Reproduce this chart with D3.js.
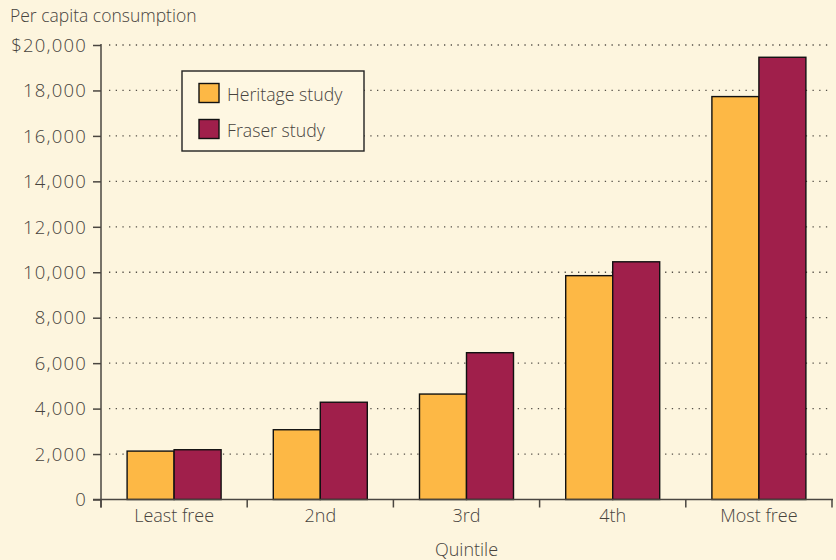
<!DOCTYPE html>
<html>
<head>
<meta charset="utf-8">
<script src="https://cdn.jsdelivr.net/npm/d3@7"></script>
<style>
  html, body { margin: 0; padding: 0; background: #fdf5de; }
  svg { display: block; }
</style>
</head>
<body>
<div class="canvas"></div>
<script>
// data
const quintiles = ['Least free', '2nd', '3rd', '4th', 'Most free'];
const heritage = [2130, 3070, 4640, 9850, 17730];
const fraser = [2190, 4280, 6460, 10460, 19460];
const seriesNames = ['Heritage study', 'Fraser study'];
const yTicks = [0, 2000, 4000, 6000, 8000, 10000, 12000, 14000, 16000, 18000, 20000];

const dims = {
  width: 836,
  height: 560,
  left: 101,
  right: 832,
  top: 45,
  bottom: 499.5,
  font: "'Open Sans', 'DejaVu Sans', sans-serif",
  weight: 300
};

const textColor = '#47433d';
const axisColor = '#4a4640';
const color = d3.scaleOrdinal(seriesNames, ['#fdb845', '#a01f4b']);

const svg = d3
  .select('.canvas')
  .append('svg')
  .attr('width', dims.width)
  .attr('height', dims.height);

svg.append('rect')
  .attr('width', dims.width)
  .attr('height', dims.height)
  .attr('fill', '#fdf5de');

// scales
const y = d3.scaleLinear().domain([0, 20000]).range([dims.bottom, dims.top]);
const x = d3.scaleBand().domain(quintiles).range([dims.left, dims.right]).paddingInner(0).paddingOuter(0);
const x1 = d3.scaleBand().domain(seriesNames).range([0, 94]);
const groupOffset = (x.bandwidth() - 94) / 2;

// gridlines (dotted)
svg.append('g')
  .selectAll('line')
  .data(yTicks.filter((d) => d > 0))
  .join('line')
  .attr('x1', dims.left + 8)
  .attr('x2', dims.right)
  .attr('y1', (d) => y(d))
  .attr('y2', (d) => y(d))
  .attr('stroke', '#555048')
  .attr('stroke-width', 1.3)
  .attr('stroke-dasharray', '1.3, 5.4');

// bars
const rows = quintiles.map((q, i) => ({ key: q, values: [heritage[i], fraser[i]] }));

const groups = svg.append('g')
  .selectAll('g')
  .data(rows)
  .join('g')
  .attr('transform', (d) => `translate(${x(d.key) + groupOffset}, 0)`);

groups.selectAll('rect')
  .data((d) => d.values.map((v, j) => ({ name: seriesNames[j], value: v })))
  .join('rect')
  .attr('x', (d) => x1(d.name))
  .attr('y', (d) => y(d.value))
  .attr('width', x1.bandwidth())
  .attr('height', (d) => y(0) - y(d.value))
  .attr('fill', (d) => color(d.name))
  .attr('stroke', '#111')
  .attr('stroke-width', 1.4);

// y axis
const yAxis = d3.axisLeft(y)
  .tickValues(yTicks)
  .tickSize(8)
  .tickPadding(6)
  .tickFormat((d) => (d === 20000 ? '$' : '') + d3.format(',')(d));

const yAxisGroup = svg.append('g')
  .attr('transform', `translate(${dims.left}, 0)`)
  .call(yAxis);

yAxisGroup.select('.domain').remove();
yAxisGroup.append('line')
  .attr('x1', 0).attr('x2', 0)
  .attr('y1', dims.top - 1).attr('y2', dims.bottom + 8)
  .attr('stroke', axisColor)
  .attr('stroke-width', 1.5);
yAxisGroup.selectAll('.tick line').attr('stroke', axisColor).attr('stroke-width', 1.5);
yAxisGroup.selectAll('text')
  .attr('fill', textColor)
  .attr('font-family', dims.font)
  .attr('font-weight', dims.weight)
  .attr('font-size', 18.5)
  .attr('letter-spacing', 1.2)
  .attr('dy', '0.34em');

// x axis
const xAxis = d3.axisBottom(x).tickSize(0).tickPadding(10);
const xAxisGroup = svg.append('g')
  .attr('transform', `translate(0, ${dims.bottom})`)
  .call(xAxis);

xAxisGroup.select('.domain').remove();
xAxisGroup.append('line')
  .attr('x1', dims.left - 8).attr('x2', dims.right + 1)
  .attr('stroke', axisColor)
  .attr('stroke-width', 1.5);
xAxisGroup.append('g')
  .selectAll('line')
  .data(quintiles.concat(['end']))
  .join('line')
  .attr('x1', (d, i) => dims.left + i * x.bandwidth())
  .attr('x2', (d, i) => dims.left + i * x.bandwidth())
  .attr('y1', 0)
  .attr('y2', 8)
  .attr('stroke', axisColor)
  .attr('stroke-width', 1.5);
xAxisGroup.selectAll('.tick text')
  .attr('fill', textColor)
  .attr('font-family', dims.font)
  .attr('font-weight', dims.weight)
  .attr('font-size', 18);

// titles
svg.append('text')
  .attr('x', 10)
  .attr('y', 22)
  .attr('fill', textColor)
  .attr('font-family', dims.font)
  .attr('font-weight', dims.weight)
  .attr('font-size', 17.5)
  .text('Per capita consumption');

svg.append('text')
  .attr('x', (dims.left + dims.right) / 2)
  .attr('y', 556)
  .attr('text-anchor', 'middle')
  .attr('fill', textColor)
  .attr('font-family', dims.font)
  .attr('font-weight', dims.weight)
  .attr('font-size', 18)
  .text('Quintile');

// legend
const legend = svg.append('g').attr('transform', 'translate(182, 71)');
legend.append('rect')
  .attr('width', 182)
  .attr('height', 80)
  .attr('fill', '#fef7e2')
  .attr('stroke', '#222')
  .attr('stroke-width', 1.4);

const items = legend.selectAll('g.item')
  .data(seriesNames)
  .join('g')
  .attr('class', 'item')
  .attr('transform', (d, i) => `translate(17, ${12.5 + i * 36})`);

items.append('rect')
  .attr('width', 20)
  .attr('height', 19)
  .attr('fill', (d) => color(d))
  .attr('stroke', '#111')
  .attr('stroke-width', 1.4);

items.append('text')
  .attr('x', 28)
  .attr('y', 17)
  .attr('fill', textColor)
  .attr('font-family', dims.font)
  .attr('font-weight', dims.weight)
  .attr('font-size', 17.7)
  .text((d) => d);
</script>
</body>
</html>
